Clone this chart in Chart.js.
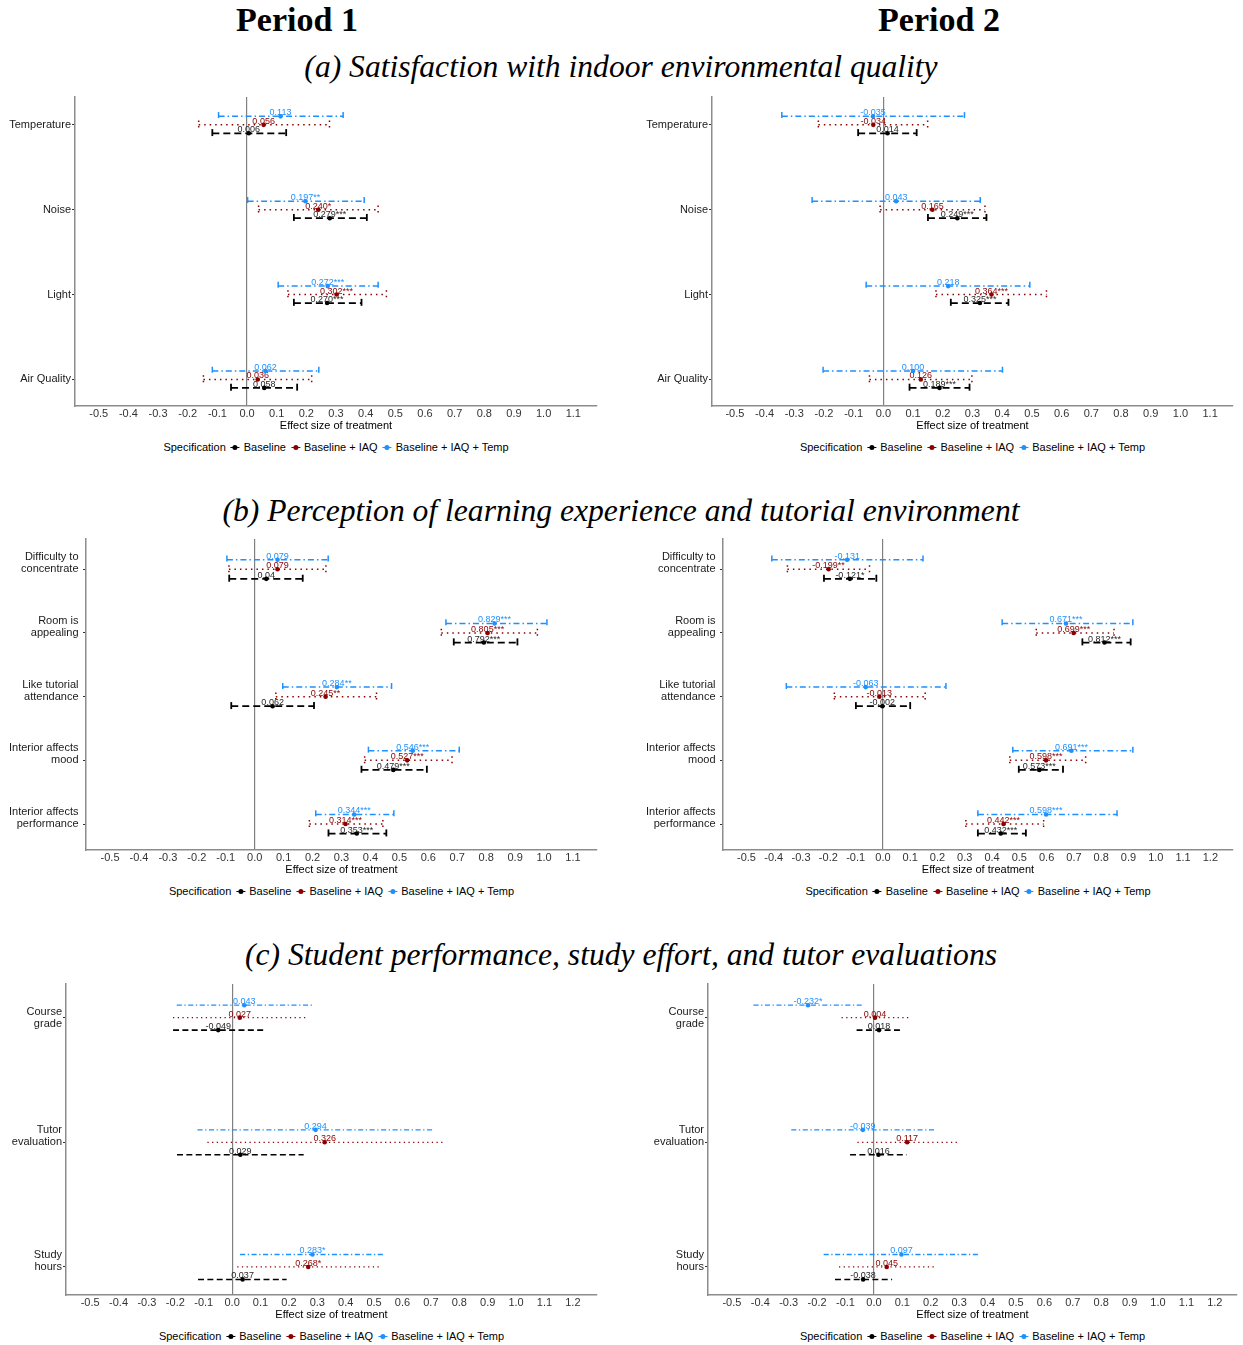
<!DOCTYPE html>
<html>
<head>
<meta charset="utf-8">
<title>Treatment effects by period</title>
<script src="https://cdn.jsdelivr.net/npm/chart.js@4.4.1/dist/chart.umd.min.js"></script>
<style>
  html, body { margin: 0; padding: 0; background: #ffffff; }
  body { width: 1243px; height: 1345px; position: relative; overflow: hidden;
         font-family: "Liberation Sans", Arial, sans-serif; }
  .period { position: absolute; transform: translate(-50%, -50%); white-space: nowrap;
            font-family: "Liberation Serif", "Times New Roman", serif; font-weight: bold;
            font-size: 34px; color: #000; }
  .sub { position: absolute; transform: translate(-50%, -50%); white-space: nowrap;
         font-family: "Liberation Serif", "Times New Roman", serif; font-style: italic;
         font-size: 31.6px; color: #000; }
  canvas { position: absolute; }
  .legend { position: absolute; transform: translate(-50%, -50%); white-space: nowrap;
            font-size: 11px; color: #000; display: flex; align-items: center; }
  .key { display: inline-block; position: relative; width: 9px; height: 9px; margin: 0 4px 0 5px; }
  .key::before { content: ""; position: absolute; left: 0; right: 0; top: 4px; height: 1.5px; background: var(--c); }
  .key::after { content: ""; position: absolute; left: 2px; top: 2px; width: 5px; height: 5px;
                border-radius: 50%; background: var(--c); }
</style>
</head>
<body>
<div class="period" style="left:297px; top:20px">Period 1</div>
<div class="period" style="left:939px; top:20px">Period 2</div>
<div class="sub" style="left:621px; top:67px">(a) Satisfaction with indoor environmental quality</div>
<div class="sub" style="left:621px; top:511px">(b) Perception of learning experience and tutorial environment</div>
<div class="sub" style="left:621px; top:955px">(c) Student performance, study effort, and tutor evaluations</div>

<script>
// ---- Outcome categories -------------------------------------------------
const catsA = ["Temperature", "Noise", "Light", "Air Quality"];
const catsB = [["Difficulty to", "concentrate"], ["Room is", "appealing"], ["Like tutorial", "attendance"],
               ["Interior affects", "mood"], ["Interior affects", "performance"]];
const catsC = [["Course", "grade"], ["Tutor", "evaluation"], ["Study", "hours"]];

const seriesNames = ["Baseline", "Baseline + IAQ", "Baseline + IAQ + Temp"];

// ---- Tick labels on the effect-size axis ---------------------------------
const xTicksTo11 = ["-0.5", "-0.4", "-0.3", "-0.2", "-0.1", "0.0", "0.1", "0.2", "0.3", "0.4",
                    "0.5", "0.6", "0.7", "0.8", "0.9", "1.0", "1.1"];
const xTicksTo12 = xTicksTo11.concat(["1.2"]);

// ---- Estimates (with significance stars) and 95% intervals ----------------
// (a) Period 1
const a1BaseEst = ["0.006", "0.279***", "0.270***", "0.058"];
const a1BaseCI  = [[-0.117, 0.132], [0.158, 0.404], [0.158, 0.386], [-0.054, 0.169]];
const a1IaqEst  = ["0.056", "0.240*", "0.302***", "0.036"];
const a1IaqCI   = [[-0.163, 0.278], [0.039, 0.442], [0.138, 0.470], [-0.147, 0.218]];
const a1TempEst = ["0.113", "0.197**", "0.272***", "0.062"];
const a1TempCI  = [[-0.096, 0.324], [0.002, 0.395], [0.105, 0.442], [-0.117, 0.242]];
// (a) Period 2
const a2BaseEst = ["0.014", "0.249***", "0.325***", "0.189***"];
const a2BaseCI  = [[-0.085, 0.112], [0.150, 0.347], [0.227, 0.421], [0.088, 0.290]];
const a2IaqEst  = ["-0.034", "0.165", "0.364***", "0.126"];
const a2IaqCI   = [[-0.219, 0.149], [-0.011, 0.342], [0.177, 0.549], [-0.047, 0.298]];
const a2TempEst = ["-0.035", "0.043", "0.218", "0.100"];
const a2TempCI  = [[-0.342, 0.273], [-0.240, 0.326], [-0.058, 0.493], [-0.203, 0.401]];
// (b) Period 1
const b1BaseEst = ["0.04", "0.792***", "0.062", "0.479***", "0.353***"];
const b1BaseCI  = [[-0.088, 0.166], [0.688, 0.908], [-0.081, 0.205], [0.369, 0.595], [0.255, 0.455]];
const b1IaqEst  = ["0.079", "0.805***", "0.245**", "0.527***", "0.314***"];
const b1IaqCI   = [[-0.089, 0.246], [0.645, 0.977], [0.073, 0.421], [0.380, 0.682], [0.189, 0.443]];
const b1TempEst = ["0.079", "0.829***", "0.284**", "0.546***", "0.344***"];
const b1TempCI  = [[-0.096, 0.254], [0.661, 1.010], [0.097, 0.473], [0.393, 0.707], [0.211, 0.481]];
// (b) Period 2
const b2BaseEst = ["-0.121*", "0.812***", "-0.002", "0.573***", "0.432***"];
const b2BaseCI  = [[-0.216, -0.024], [0.731, 0.908], [-0.099, 0.100], [0.498, 0.660], [0.348, 0.524]];
const b2IaqEst  = ["-0.199**", "0.699***", "-0.013", "0.598***", "0.442***"];
const b2IaqCI   = [[-0.350, -0.049], [0.562, 0.847], [-0.178, 0.155], [0.465, 0.743], [0.304, 0.589]];
const b2TempEst = ["-0.131", "0.671***", "-0.063", "0.691***", "0.598***"];
const b2TempCI  = [[-0.407, 0.147], [0.437, 0.916], [-0.354, 0.231], [0.476, 0.916], [0.348, 0.858]];
// (c) Period 1
const c1BaseEst = ["-0.049", "0.029", "0.037"];
const c1BaseCI  = [[-0.208, 0.110], [-0.194, 0.252], [-0.120, 0.192]];
const c1IaqEst  = ["0.027", "0.326", "0.268*"];
const c1IaqCI   = [[-0.208, 0.264], [-0.087, 0.742], [0.018, 0.518]];
const c1TempEst = ["0.043", "0.294", "0.283*"];
const c1TempCI  = [[-0.195, 0.282], [-0.122, 0.709], [0.028, 0.537]];
// (c) Period 2
const c2BaseEst = ["0.018", "0.016", "-0.038"];
const c2BaseCI  = [[-0.061, 0.097], [-0.084, 0.115], [-0.137, 0.064]];
const c2IaqEst  = ["0.004", "0.117", "0.045"];
const c2IaqCI   = [[-0.114, 0.123], [-0.058, 0.292], [-0.123, 0.214]];
const c2TempEst = ["-0.232*", "-0.039", "0.097"];
const c2TempCI  = [[-0.424, -0.043], [-0.291, 0.213], [-0.177, 0.375]];

// ---- Styling ---------------------------------------------------------------
const FONT = '"Liberation Sans", Arial, sans-serif';
const seriesStyle = [
  { color: "#000000", text: "#262626", width: 1.8, dash: [7, 4] },          // Baseline: dashed
  { color: "#8B0000", text: "#8B0000", width: 1.5, dash: [1.5, 4] },        // + IAQ: dotted
  { color: "#1E90FF", text: "#1E90FF", width: 1.5, dash: [6, 3, 1.5, 3] }   // + IAQ + Temp: dot-dash
];

// Panel geometry: plot-area box in page pixels, axis ranges, and which
// two-line category labels sit with their second line on the tick.
const panels = [
  { cats: catsA, est: [a1BaseEst, a1IaqEst, a1TempEst], ci: [a1BaseCI, a1IaqCI, a1TempCI],
    ticks: xTicksTo11, xMin: -0.58, xMax: 1.18, yMin: 0.672, yMax: 4.313, dodge: 0.1, cap: 0.05, lw: 1,
    lastLineOnTick: [], labelPad: 1,
    box: { L: 75, R: 597, T: 97, B: 406 }, cvLeft: 0, cvRight: 615 },
  { cats: catsA, est: [a2BaseEst, a2IaqEst, a2TempEst], ci: [a2BaseCI, a2IaqCI, a2TempCI],
    ticks: xTicksTo11, xMin: -0.577, xMax: 1.177, yMin: 0.672, yMax: 4.313, dodge: 0.1, cap: 0.05, lw: 1,
    lastLineOnTick: [], labelPad: 1,
    box: { L: 712, R: 1233, T: 97, B: 406 }, cvLeft: 630, cvRight: 1243 },
  { cats: catsB, est: [b1BaseEst, b1IaqEst, b1TempEst], ci: [b1BaseCI, b1IaqCI, b1TempCI],
    ticks: xTicksTo11, xMin: -0.583, xMax: 1.183, yMin: 0.524, yMax: 5.408, dodge: 0.15, cap: 0.065, lw: 1,
    lastLineOnTick: [true, true, true, true, true], labelPad: 4.5,
    box: { L: 86, R: 597, T: 539, B: 850 }, cvLeft: 0, cvRight: 615 },
  { cats: catsB, est: [b2BaseEst, b2IaqEst, b2TempEst], ci: [b2BaseCI, b2IaqCI, b2TempCI],
    ticks: xTicksTo12, xMin: -0.586, xMax: 1.283, yMin: 0.524, yMax: 5.408, dodge: 0.15, cap: 0.065, lw: 1,
    lastLineOnTick: [true, true, true, true, true], labelPad: 4.5,
    box: { L: 723, R: 1233, T: 539, B: 850 }, cvLeft: 630, cvRight: 1243 },
  { cats: catsC, est: [c1BaseEst, c1IaqEst, c1TempEst], ci: [c1BaseCI, c1IaqCI, c1TempCI],
    ticks: xTicksTo12, xMin: -0.585, xMax: 1.285, yMin: 0.730, yMax: 3.225, dodge: 0.1, cap: 0, lw: 0.85,
    lastLineOnTick: [false, true, true], labelPad: 1,
    box: { L: 66, R: 597, T: 984, B: 1295 }, cvLeft: 0, cvRight: 615 },
  { cats: catsC, est: [c2BaseEst, c2IaqEst, c2TempEst], ci: [c2BaseCI, c2IaqCI, c2TempCI],
    ticks: xTicksTo12, xMin: -0.584, xMax: 1.278, yMin: 0.730, yMax: 3.225, dodge: 0.1, cap: 0, lw: 0.85,
    lastLineOnTick: [false, true, true], labelPad: 1,
    box: { L: 708, R: 1237, T: 984, B: 1295 }, cvLeft: 630, cvRight: 1243 }
];

// Draws the estimate labels just above each point (before points are painted)
const estimateLabels = {
  id: "estimateLabels",
  afterDatasetDraw(chart, args) {
    if (!chart.data.datasets[args.index].drawLabels) return;
    const ctx = chart.ctx;
    ctx.save();
    ctx.font = "9px " + FONT;
    ctx.textAlign = "center";
    ctx.textBaseline = "alphabetic";
    chart.data.datasets.forEach((ds, di) => {
      if (!ds.labelTexts) return;
      const meta = chart.getDatasetMeta(di);
      ctx.fillStyle = ds.labelColor;
      meta.data.forEach((pt, i) => ctx.fillText(ds.labelTexts[i], pt.x, pt.y - 1));
    });
    ctx.restore();
  }
};

function buildDatasets(p) {
  const pointSets = [], barSets = [];
  for (let s = 0; s < 3; s++) {
    const st = seriesStyle[s];
    const off = (1 - s) * p.dodge;   // Temp above, IAQ centred, Baseline below
    const values = p.est[s].map(v => parseFloat(v));
    pointSets.push({
      data: values.map((v, i) => ({ x: v, y: i + 1 + off })),
      showLine: false, pointRadius: 2.3, pointHoverRadius: 2.3, pointBorderWidth: 0,
      backgroundColor: st.color, borderColor: st.color,
      labelTexts: p.est[s], labelColor: st.text
    });
    p.ci[s].forEach((ci, i) => {
      const y = i + 1 + off;
      const lineStyle = {
        showLine: true, pointRadius: 0, pointHoverRadius: 0, fill: false,
        borderColor: st.color, borderWidth: st.width * p.lw,
        borderDash: st.dash.map(d => d * p.lw), borderCapStyle: "butt"
      };
      barSets.push(Object.assign({ data: [{ x: ci[0], y }, { x: ci[1], y }] }, lineStyle));
      if (p.cap > 0) {
        ci.forEach(x => barSets.push(Object.assign(
          { data: [{ x, y: y - p.cap }, { x, y: y + p.cap }] }, lineStyle)));
      }
    });
  }
  // datasets are painted from last to first: this one is the last interval painted
  barSets[0].drawLabels = true;
  return pointSets.concat(barSets);
}

function addLegend(p) {
  const lg = document.createElement("div");
  lg.className = "legend";
  lg.style.left = ((p.box.L + p.box.R) / 2) + "px";
  lg.style.top = (p.box.B + 41) + "px";
  let html = "<span>Specification</span>";
  seriesNames.forEach((name, s) => {
    html += '<span class="key" style="--c:' + seriesStyle[s].color + '"></span><span>' + name + "</span>";
  });
  lg.innerHTML = html;
  document.body.appendChild(lg);
}

panels.forEach(p => {
  const top = p.box.T - 6;
  const height = p.box.B + 27 - top;
  const width = p.cvRight - p.cvLeft;
  const cv = document.createElement("canvas");
  cv.width = width; cv.height = height;
  cv.style.left = p.cvLeft + "px"; cv.style.top = top + "px";
  cv.style.width = width + "px"; cv.style.height = height + "px";
  document.body.appendChild(cv);

  new Chart(cv.getContext("2d"), {
    type: "scatter",
    data: { datasets: buildDatasets(p) },
    plugins: [estimateLabels],
    options: {
      responsive: false, animation: false, devicePixelRatio: 1,
      layout: { autoPadding: false, padding: { left: 0, top: 6, bottom: 0, right: p.cvRight - p.box.R } },
      plugins: { legend: { display: false }, tooltip: { enabled: false } },
      events: [],
      scales: {
        x: {
          type: "linear", min: p.xMin, max: p.xMax, bounds: "data",
          afterBuildTicks: sc => { sc.ticks = p.ticks.map(t => ({ value: parseFloat(t) })); },
          ticks: { autoSkip: false, maxRotation: 0, padding: 1, color: "#333333",
                   font: { size: 11, family: FONT }, callback: (v, i) => p.ticks[i] },
          grid: { display: true, drawTicks: false, drawOnChartArea: true, lineWidth: 1.2,
                  color: c => (c.tick && Math.abs(c.tick.value) < 1e-9) ? "#808080" : "rgba(0,0,0,0)" },
          border: { display: true, color: "#8c8c8c", width: 1.5 },
          title: { display: true, text: "Effect size of treatment", color: "#000000",
                   font: { size: 11, family: FONT }, padding: 0 },
          afterFit: sc => { sc.height = 27; sc.paddingLeft = 0; sc.paddingRight = 0; }
        },
        y: {
          type: "linear", reverse: true, min: p.yMin, max: p.yMax, bounds: "data",
          afterBuildTicks: sc => { sc.ticks = p.cats.map((_, i) => ({ value: i + 1 })); },
          ticks: { autoSkip: false, padding: p.labelPad, color: "#1a1a1a",
                   font: { size: 11, family: FONT, lineHeight: 1.1 },
                   callback: (v, i) => {
                     const lab = p.cats[i];
                     // a blank third line lifts a two-line label so its second line meets the tick
                     return p.lastLineOnTick[i] ? lab.concat([""]) : lab;
                   } },
          grid: { display: true, drawOnChartArea: false, drawTicks: true, tickLength: 3,
                  color: "#333333", lineWidth: 1 },
          border: { display: true, color: "#8c8c8c", width: 1.5 },
          afterFit: sc => { sc.width = p.box.L - p.cvLeft; sc.paddingTop = 0; sc.paddingBottom = 0; }
        }
      }
    }
  });
  addLegend(p);
});
</script>
</body>
</html>
